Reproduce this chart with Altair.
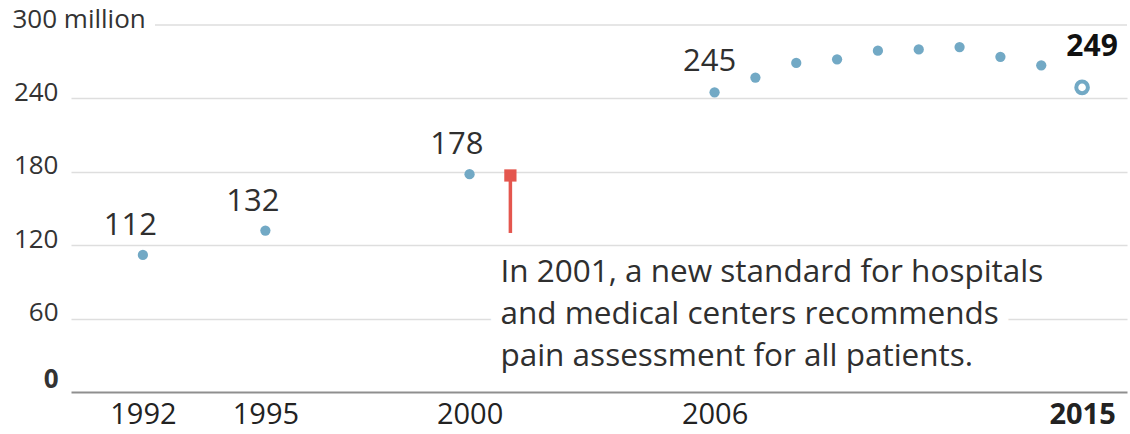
import altair as alt
import pandas as pd

# Annual totals, in millions
years = [1992, 1995, 2000, 2006, 2007, 2008, 2009, 2010, 2011, 2012, 2013, 2014]
values = [112, 132, 178, 245, 257, 269, 272, 279, 280, 282, 274, 267]
latest_year = 2015
latest_value = 249

# Years whose totals are printed next to the dot
early_labeled = [1992, 1995, 2000]
mid_labeled = [2006]

# 2001 event marker
event_year = 2001
event_top = 177
event_bottom = 130
event_note = [
    "In 2001, a new standard for hospitals",
    "and medical centers recommends",
    "pain assessment for all patients.",
]
note_value = 90

x_ticks = [1992, 1995, 2000, 2006, 2015]
y_ticks = [0, 60, 120, 180, 240, 300]

FONT = "Open Sans"
DOT = "#72a9c5"
RED = "#e4564e"
GRID = "#dedede"
TEXT = "#2f2f2f"

df = pd.DataFrame({"year": years, "value": values})
latest = pd.DataFrame({"year": [latest_year], "value": [latest_value]})
event = pd.DataFrame({"year": [event_year], "value": [event_top], "bottom": [event_bottom]})
note = pd.DataFrame({"year": [event_year], "value": [note_value], "text": ["\n".join(event_note)]})
top_line = pd.DataFrame({"year": [x_ticks[0]], "value": [y_ticks[-1]]})

x_scale = alt.Scale(domain=[1990.24, 2016.1], nice=False, zero=False)
y_scale = alt.Scale(domain=[0, 300], nice=False)

is_top = "datum.value == 300"

x_axis = alt.Axis(
    values=x_ticks, format="d", title=None, ticks=False, tickSize=0,
    domain=True, domainColor="#8f8f8f", domainWidth=2, grid=False,
    labelFont=FONT, labelFontSize=29, labelColor="#222222", labelPadding=8,
    labelFlush=False, labelOverlap=False,
    labelFontWeight={"condition": {"test": "datum.value == 2015", "value": "bold"}, "value": "normal"},
)
y_axis = alt.Axis(
    values=y_ticks, title=None, ticks=False, tickSize=0, domain=False,
    grid=True, gridColor=GRID, gridWidth=1.5,
    gridOpacity={"condition": {"test": "datum.value == 0 || datum.value == 300", "value": 0}, "value": 1},
    labelFont=FONT, labelFontSize=26, labelColor="#333333",
    labelBaseline="alphabetic",
    labelOffset={"condition": {"test": "datum.value == 0", "value": -5}, "value": 2},
    labelExpr="datum.value == 300 ? '300 million' : datum.label",
    labelAlign={"condition": {"test": is_top, "value": "left"}, "value": "right"},
    labelPadding={"condition": {"test": is_top, "value": 59}, "value": 13},
    labelFontWeight={"condition": {"test": "datum.value == 0", "value": "bold"}, "value": "normal"},
    labelOverlap=False,
)

# Every layer shares the same scales and axes
X = alt.X("year:Q", scale=x_scale, axis=x_axis)
Y = alt.Y("value:Q", scale=y_scale, axis=y_axis)

# Top gridline starts after its long label
top_rule = alt.Chart(top_line).mark_rule(color=GRID, strokeWidth=1.5).encode(
    y=Y, x=alt.value(84), x2=alt.value(1056)
)

note_style = dict(
    font=FONT, fontSize=31.5, align="left", baseline="alphabetic", lineBreak="\n",
    lineHeight=42, dx=-10,
)

note_halo = alt.Chart(note).mark_text(
    fill="white", stroke="white", strokeWidth=22, strokeJoin="round", **note_style
).encode(x=X, y=Y, text="text:N")

note_text = alt.Chart(note).mark_text(color=TEXT, **note_style).encode(
    x=X, y=Y, text="text:N"
)

event_rule = alt.Chart(event).mark_rule(color=RED, strokeWidth=3.5).encode(
    x=X, y=Y, y2="bottom:Q"
)
event_square = alt.Chart(event).mark_point(
    shape="square", filled=True, size=150, color=RED, opacity=1
).encode(x=X, y=Y)

dots = alt.Chart(df).mark_circle(size=105, color=DOT, opacity=1).encode(x=X, y=Y)

latest_dot = alt.Chart(latest).mark_point(
    shape="circle", filled=False, size=135, strokeWidth=4, color=DOT, opacity=1
).encode(x=X, y=Y)

early_labels = alt.Chart(df[df["year"].isin(early_labeled)]).mark_text(
    font=FONT, fontSize=31, align="right", baseline="alphabetic", dx=14, dy=-20, color=TEXT
).encode(x=X, y=Y, text="value:Q")

mid_labels = alt.Chart(df[df["year"].isin(mid_labeled)]).mark_text(
    font=FONT, fontSize=31, align="center", baseline="alphabetic", dx=-5, dy=-21, color=TEXT
).encode(x=X, y=Y, text="value:Q")

latest_label = alt.Chart(latest).mark_text(
    font=FONT, fontSize=30, fontWeight="bold", align="center", baseline="alphabetic",
    dx=10, dy=-31, color="#111111"
).encode(x=X, y=Y, text="value:Q")

chart = alt.layer(
    top_rule, note_halo, note_text, event_rule, event_square,
    dots, latest_dot, early_labels, mid_labels, latest_label,
).properties(
    width=1056, height=367,
    padding={"left": 71, "top": 25, "right": 3, "bottom": 42},
    autosize="none",
).configure(background="white").configure_view(stroke=None)

chart.save("out.html", embed_options={"renderer": "svg", "actions": False})
